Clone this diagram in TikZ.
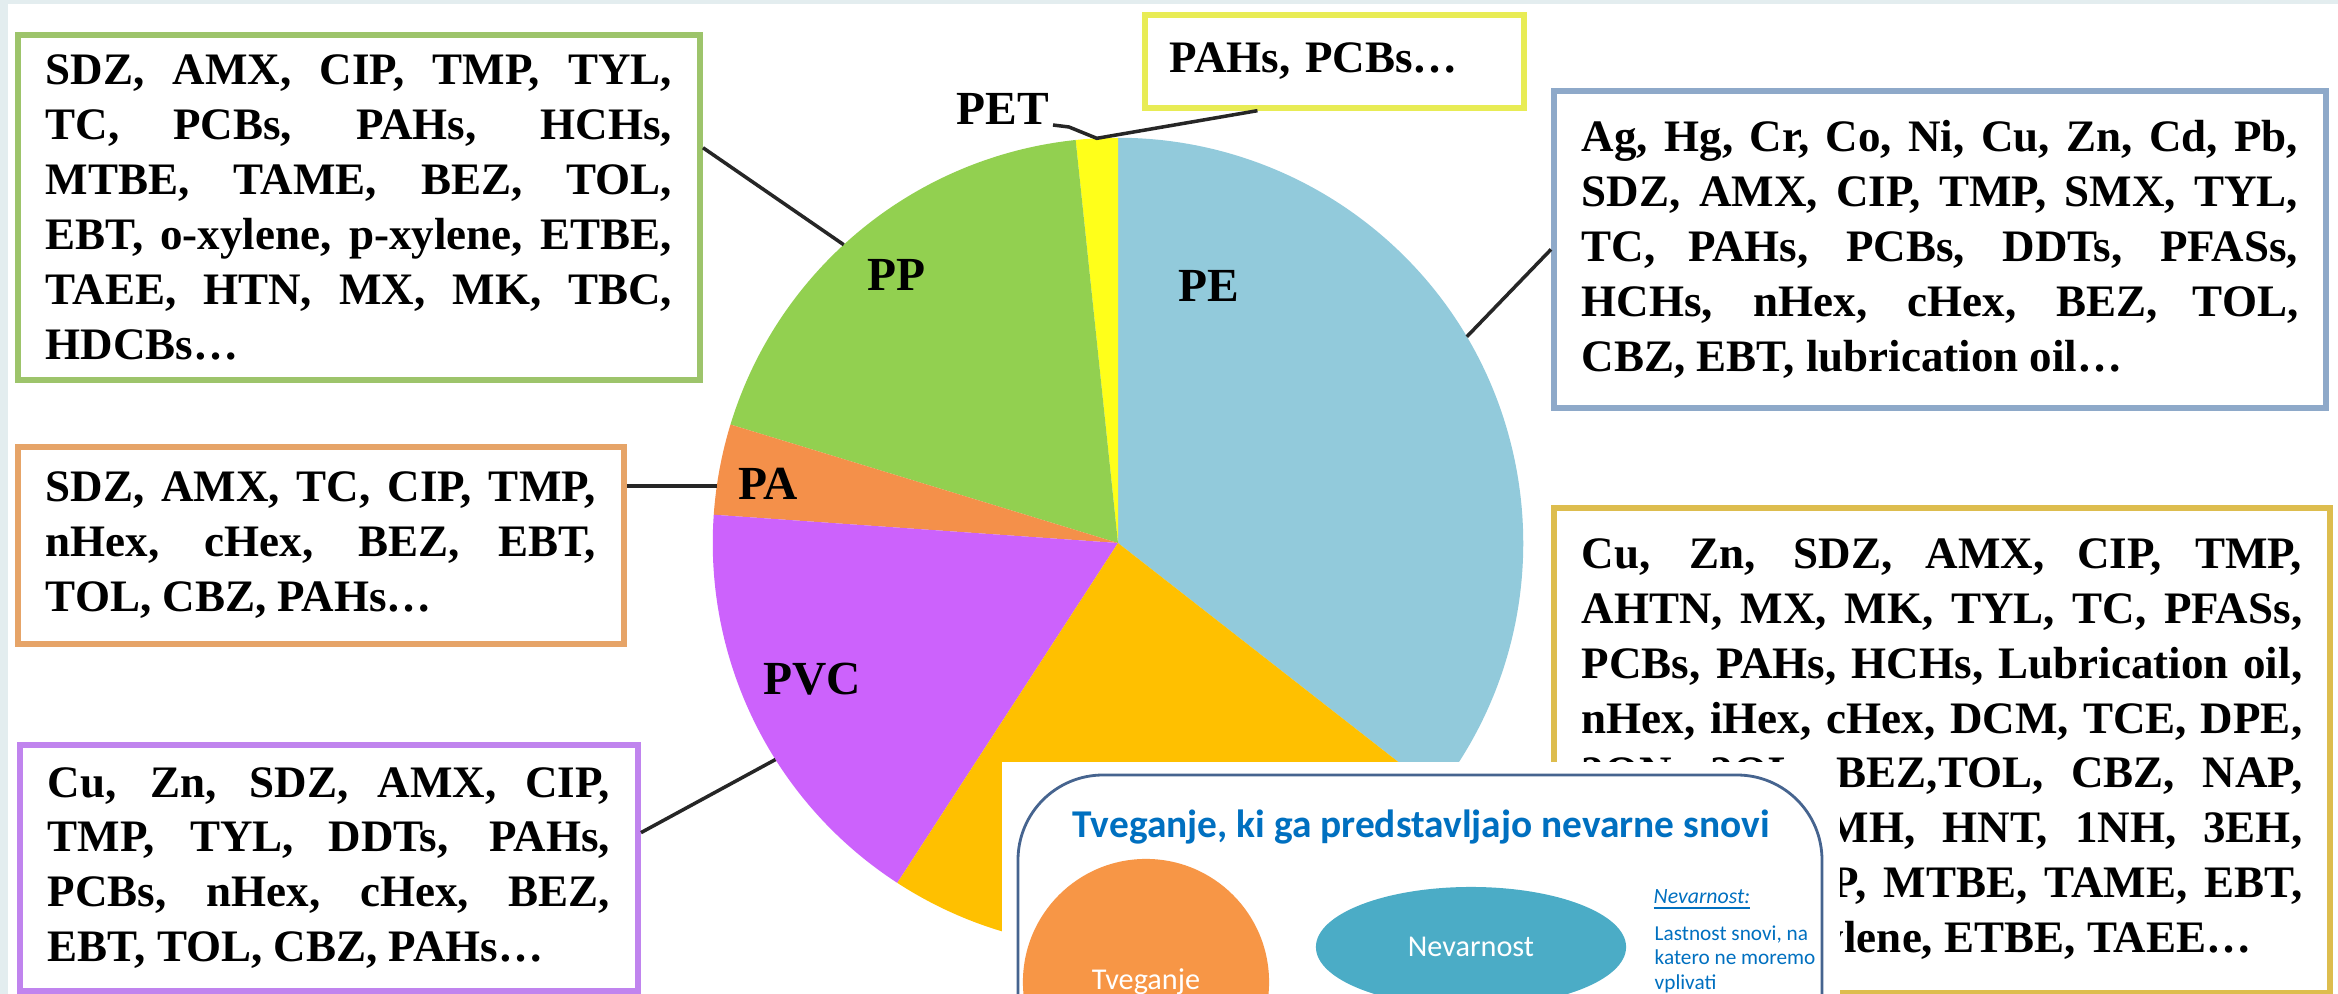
\documentclass[tikz,border=0pt]{standalone}
\usepackage{fontspec}
\setmainfont{Liberation Serif}
\newfontfamily\slidefont{Carlito}
\usetikzlibrary{calc,shapes.geometric}
\definecolor{bgframe}{HTML}{E3EDEF}
\definecolor{slicepe}{HTML}{92CADB}
\definecolor{slicepp}{HTML}{92D050}
\definecolor{slicepa}{HTML}{F4904A}
\definecolor{slicepvc}{HTML}{CC62FC}
\definecolor{sliceps}{HTML}{FFC000}
\definecolor{slicepet}{HTML}{FFFF1A}
\definecolor{framepp}{HTML}{9DC46B}
\definecolor{framepa}{HTML}{E6A468}
\definecolor{framepvc}{HTML}{C084EE}
\definecolor{framepet}{HTML}{E8EC55}
\definecolor{framepe}{HTML}{8EA9C9}
\definecolor{frameps}{HTML}{DDBD4E}
\definecolor{slideblue}{HTML}{0070C0}
\definecolor{slideline}{HTML}{46648F}
\definecolor{riskorange}{HTML}{F79646}
\definecolor{hazardteal}{HTML}{4BACC6}
\setlength{\parindent}{0pt}
\tikzset{
  listbox/.style={draw=#1, line width=1.6pt, fill=white, anchor=north west,
    inner xsep=0.28cm, inner ysep=0pt, align=justify,
    font=\bfseries\fontsize{12.8}{15.6}\selectfont},
  slicelabel/.style={font=\bfseries\fontsize{13.5}{16}\selectfont, inner sep=1pt},
  leader/.style={line width=1pt, black!85},
}

\begin{document}
\begin{tikzpicture}[x=0.01cm, y=-0.01cm,
  slidetext/.style={text=slideblue, inner sep=0pt},
  blob/.style={fill=#1, text=white, inner sep=0pt,
               font=\slidefont\fontsize{8.6}{10}\selectfont}]
\useasboundingbox (0,0) rectangle (2338,994);
\fill[bgframe] (0,0) rectangle (2338,994);
\fill[white] (8,4) rectangle (2338,994);

% ---- substance boxes ----
\node[listbox=framepp, text width=6.26cm, minimum height=3.45cm] (ppbox) at (15,32)
  {SDZ, AMX, CIP, TMP, TYL,\linebreak TC, PCBs, PAHs, HCHs,\linebreak
   MTBE, TAME, BEZ, TOL,\linebreak EBT, o-xylene, p-xylene, ETBE,\linebreak
   TAEE, HTN, MX, MK, TBC,\linebreak HDCBs…};
\node[listbox=framepa, text width=5.5cm, minimum height=1.97cm] (pabox) at (15,444)
  {SDZ, AMX, TC, CIP, TMP,\linebreak nHex, cHex, BEZ, EBT,\linebreak TOL, CBZ, PAHs…};
\node[listbox=framepvc, text width=5.62cm, minimum height=2.46cm] (pvcbox) at (17,742)
  {Cu, Zn, SDZ, AMX, CIP,\linebreak TMP, TYL, DDTs, PAHs,\linebreak
   PCBs, nHex, cHex, BEZ,\linebreak EBT, TOL, CBZ, PAHs…};
\node[listbox=framepet, align=left, text width=3.29cm, inner xsep=0.25cm,
      minimum height=0.93cm] (pahbox) at (1142,12) {PAHs, PCBs…};
\node[listbox=framepe, text width=7.16cm, minimum height=3.17cm] (pebox) at (1551,88)
  {Ag, Hg, Cr, Co, Ni, Cu, Zn, Cd, Pb,\linebreak SDZ, AMX, CIP, TMP, SMX, TYL,\linebreak
   TC, PAHs, PCBs, DDTs, PFASs,\linebreak HCHs, nHex, cHex, BEZ, TOL,\linebreak
   CBZ, EBT, lubrication oil…};
\node[listbox=frameps, text width=7.2cm, minimum height=4.85cm] (psbox) at (1551,505)
  {Cu, Zn, SDZ, AMX, CIP, TMP,\linebreak AHTN, MX, MK, TYL, TC, PFASs,\linebreak
   PCBs, PAHs, HCHs, Lubrication oil,\linebreak nHex, iHex, cHex, DCM, TCE, DPE,\linebreak
   2ON, 2OL, BEZ,TOL, CBZ, NAP,\linebreak \hspace*{2.45cm}MH, HNT, 1NH, 3EH,\linebreak
   \hspace*{2.5cm}P, MTBE, TAME, EBT,\linebreak \hspace*{2.4cm}ylene, ETBE, TAEE…};

% ---- pie ----
\coordinate (pie) at (1118,543);
\begin{scope}[shift={(pie)}]
\foreach \from/\to/\col in {-38/90/slicepe, 90/96/slicepet, 96/163/slicepp,
    163/176/slicepa, 176/237/slicepvc, 237/322/sliceps}
  \fill[\col] (0,0) -- (\from:4.05cm) arc[start angle=\from, end angle=\to, radius=4.05cm] -- cycle;
\end{scope}
\node[slicelabel] (pelbl) at (1209,286) {PE};
\node[slicelabel] (pplbl) at (896,275) {PP};
\node[slicelabel] (palbl) at (768,484) {PA};
\node[slicelabel] (pvclbl) at (812,679) {PVC};
\node[slicelabel, anchor=base east] (petlbl) at (1053,125) {PET};

% ---- leaders ----
\coordinate (pptip) at ($(pie)+(132.6:4.05cm)$);
\coordinate (patip) at ($(pie)+(171.9:4.05cm)$);
\coordinate (pvctip) at ($(pie)+(212.3:4.05cm)$);
\coordinate (petip) at ($(pie)+(30.6:4.05cm)$);
\coordinate (pettip) at ($(pie)+(93:4.05cm)$);
\draw[leader] ($(ppbox.north east)!0.33!(ppbox.south east)$) -- (pptip);
\draw[leader] (pabox.east |- patip) -- (patip);
\draw[leader] ($(pvcbox.north east)!0.36!(pvcbox.south east)$) -- (pvctip);
\draw[leader] (pebox.west) -- (petip);
\draw[leader] (petlbl.base east) -- ++(16,2) -- (pettip)
  -- ($(pahbox.south west)!0.3!(pahbox.south east)$);

% ---- slide overlay ----
\fill[white] (1002,762) rectangle (1840,994);
\draw[slideline, line width=0.8pt, rounded corners=0.85cm]
  (1018,1010) -- (1018,775) -- (1822,775) -- (1822,1010);
\node[slidetext, anchor=base west, font=\slidefont\bfseries\fontsize{11.2}{13}\selectfont]
  (slidetitle) at (1072,837) {Tveganje, ki ga predstavljajo nevarne snovi};
\node[blob=riskorange, circle, minimum size=2.46cm] (risk) at (1146,982) {Tveganje};
\node[blob=hazardteal, ellipse, minimum width=3.1cm, minimum height=1.2cm] (hazard)
  at (1471,947) {Nevarnost};
\node[slidetext, anchor=base west, font=\slidefont\itshape\fontsize{6.2}{7.5}\selectfont]
  (hazardhead) at (1653,903) {\underline{Nevarnost:}};
\node[slidetext, anchor=north west, align=left, font=\slidefont\fontsize{6.05}{7}\selectfont]
  (hazarddef) at (1654,925) {Lastnost snovi, na\\katero ne moremo\\vplivati};

\end{tikzpicture}
\end{document}
